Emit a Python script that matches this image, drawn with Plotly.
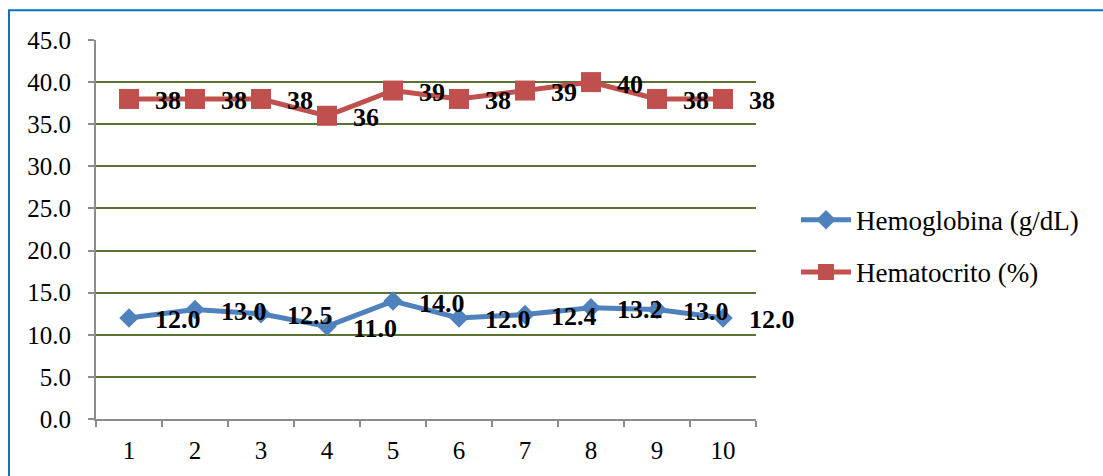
import plotly.graph_objects as go

# Sample index along the x axis
muestras = ["1", "2", "3", "4", "5", "6", "7", "8", "9", "10"]

# Measured values per sample
hemoglobina = [12.0, 13.0, 12.5, 11.0, 14.0, 12.0, 12.4, 13.2, 13.0, 12.0]
hematocrito = [38, 38, 38, 36, 39, 38, 39, 40, 38, 38]

# Y-axis ticks
y_ticks = [0, 5, 10, 15, 20, 25, 30, 35, 40, 45]

W, H = 1103, 476
L, R, T, B = 96, 347, 40, 54
pw, ph = W - L - R, H - T - B

SERIF = "Liberation Serif"
BLUE = "#4F81BD"
RED = "#C0504D"
GRID = "#5B7133"
AXIS = "#8C8C8C"

fig = go.Figure()
fig.add_trace(go.Scatter(
    x=muestras, y=hemoglobina, name="Hemoglobina (g/dL)",
    mode="lines+markers", legendgroup="hb",
    line=dict(color=BLUE, width=5),
    marker=dict(symbol="diamond", size=15, color=BLUE),
))
fig.add_trace(go.Scatter(
    x=muestras, y=hematocrito, name="Hematocrito (%)",
    mode="lines+markers", legendgroup="hto",
    line=dict(color=RED, width=5),
    marker=dict(symbol="square", size=20, color=RED),
))

# Value labels to the right of each point (x given as category index)
annotations = []
for ys, fmt in ((hemoglobina, "{:.1f}"), (hematocrito, "{:d}")):
    for i, yv in enumerate(ys):
        annotations.append(dict(
            x=i, y=yv, xref="x", yref="y", text="<b>" + fmt.format(yv) + "</b>",
            showarrow=False, xanchor="left", yanchor="middle",
            xshift=24, yshift=-2,
            font=dict(family=SERIF, size=26, color="#000000"),
        ))

# Outer frame (left and top edges visible)
frame = dict(
    type="rect", xref="paper", yref="paper",
    x0=(9 - L) / pw, x1=(W + 20 - L) / pw,
    y0=-(B + 20) / ph, y1=(H - B - 10) / ph,
    line=dict(color="#0B72C2", width=2), fillcolor="rgba(0,0,0,0)", layer="below",
)

fig.update_layout(
    width=W, height=H,
    margin=dict(l=L, r=R, t=T, b=B, pad=0),
    paper_bgcolor="white", plot_bgcolor="white",
    font=dict(family=SERIF, size=25, color="#000000"),
    showlegend=True,
    legend=dict(
        x=(796 - L) / pw, y=(H - B - 197) / ph, xanchor="left", yanchor="top",
        font=dict(family=SERIF, size=27, color="#000000"),
        itemwidth=50, tracegroupgap=14, bgcolor="rgba(0,0,0,0)",
    ),
    xaxis=dict(
        type="category", range=[-0.5, 9.5],
        showgrid=False, zeroline=False,
        showline=True, linecolor=AXIS, linewidth=2,
        ticks="outside", tickson="boundaries", ticklen=6, tickcolor=AXIS, tickwidth=2,
        ticklabelstandoff=8,
        tickfont=dict(family=SERIF, size=25),
    ),
    yaxis=dict(
        range=[0, 45], tickvals=y_ticks, tickformat=".1f",
        showgrid=True, gridcolor=GRID, gridwidth=2,
        zeroline=False,
        showline=True, linecolor=AXIS, linewidth=2,
        ticks="outside", ticklen=6, tickcolor=AXIS, tickwidth=2,
        ticklabelstandoff=12,
        tickfont=dict(family=SERIF, size=25),
    ),
    annotations=annotations,
    shapes=[frame],
)

fig.write_html("out.html")
